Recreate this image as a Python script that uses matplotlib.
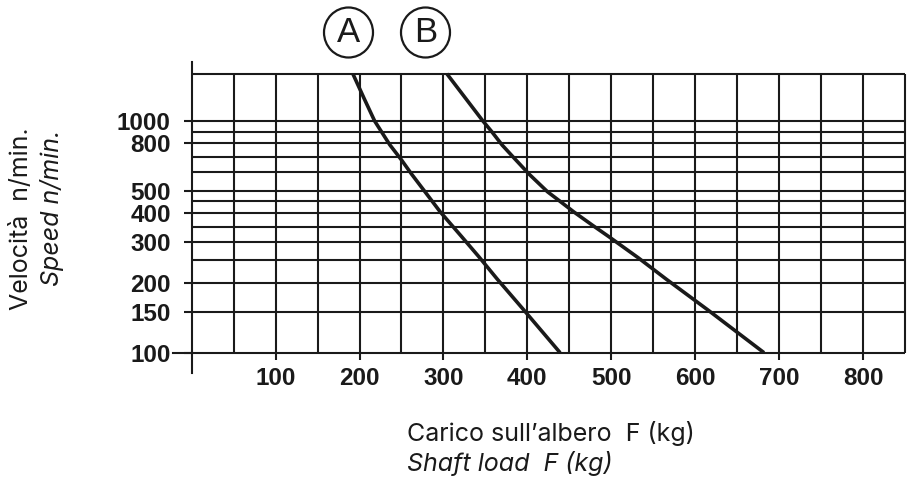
import math
import matplotlib
matplotlib.use("Agg")
import matplotlib.pyplot as plt
from matplotlib.patches import Ellipse
from matplotlib.lines import Line2D

# ---- data ----
load_a = [192, 205.5, 218, 236, 250, 262, 278, 296, 321, 342, 364, 395, 439]
speed_a = [1600, 1250, 1000, 790, 679, 590, 495, 406, 319, 260, 208, 154, 100]

load_b = [304, 347, 357.5, 370, 384.5, 402, 424, 439, 455, 478, 497, 532, 566, 615, 682]
speed_b = [1600, 1000, 900, 787, 690, 590, 495, 450, 406, 354, 317, 257, 207, 153, 100]

y_grid = [100, 150, 200, 250, 300, 350, 400, 450, 500, 600, 700, 800, 900, 1000, 1600]
y_ticks = [100, 150, 200, 300, 400, 500, 800, 1000]
x_grid = list(range(50, 851, 50))
x_ticks = [100, 200, 300, 400, 500, 600, 700, 800]
curve_labels = ["A", "B"]

W, H = 910, 483
fig = plt.figure(figsize=(W / 100, H / 100), dpi=100)

# axes: x 0..850 from px 191.7 to 905 ; y log, 100 at px 352.7, 231.7 px/decade
ax_left = 191.7 / W
ax_w = (905 - 191.7) / W
ax_bottom = (H - 352.7) / H
ymax = 1800
ax_h = (math.log10(ymax) - 2) * 231.7 / H
ax = fig.add_axes([ax_left, ax_bottom, ax_w, ax_h])
ax.set_yscale("log")
ax.set_xlim(0, 850)
ax.set_ylim(100, ymax)
for s in ax.spines.values():
    s.set_visible(False)

lc = "#1a1a1a"
glw = 1.5
ax.hlines(y_grid, 0, 850, color=lc, lw=glw, clip_on=False, zorder=1)
ax.vlines(x_grid, 100, 1600, color=lc, lw=glw, clip_on=False, zorder=1)
# left axis line, extending beyond the grid at both ends
ax.add_line(Line2D([0, 0], [-20.0 / (ax_h * H), 1.0], transform=ax.transAxes,
                   color=lc, lw=glw, clip_on=False))
# longer tick at 100
ax.add_line(Line2D([-19.0 / (ax_w * W), 0], [0, 0], transform=ax.transAxes,
                   color=lc, lw=glw, clip_on=False))

ax.plot(load_a, speed_a, color=lc, lw=2.6, solid_capstyle="butt", zorder=3)
ax.plot(load_b, speed_b, color=lc, lw=2.6, solid_capstyle="butt", zorder=3)

tick_font = dict(family=["Liberation Sans", "DejaVu Sans"], size=17.5, weight="bold")
ax.set_yticks(y_ticks)
ax.set_yticklabels([str(v) for v in y_ticks], fontdict=tick_font, color=lc)
ax.yaxis.set_minor_locator(matplotlib.ticker.NullLocator())
ax.set_xticks(x_ticks)
ax.set_xticklabels([str(v) for v in x_ticks], fontdict=tick_font, color=lc)
ax.tick_params(axis="y", length=6, width=glw, color=lc, pad=9.0)
ax.tick_params(axis="x", length=5, width=glw, color=lc, pad=5)

# axis titles
txt_font = ["Inter", "DejaVu Sans"]
fs = 18
fig.text(22 / W, 1 - 127 / H, "Velocità  n/min.", rotation=90, ha="center", va="top",
         fontsize=fs, family=txt_font, color=lc)
fig.text(52 / W, 1 - 130 / H, "Speed n/min.", rotation=90, ha="center", va="top",
         fontsize=fs, family=txt_font, style="italic", color=lc)
fig.text(407 / W, 1 - 434 / H, "Carico sull\u2019albero  F (kg)", ha="left", va="center",
         fontsize=fs, family=txt_font, color=lc)
fig.text(407 / W, 1 - 463 / H, "Shaft load  F (kg)", ha="left", va="center",
         fontsize=fs, family=txt_font, style="italic", color=lc)

# circled curve labels
for lab, cx in zip(curve_labels, [348.5, 425.5]):
    e = Ellipse((cx / 100, (H - 32.5) / 100), 0.49, 0.50, transform=fig.dpi_scale_trans,
                fill=False, edgecolor=lc, lw=1.6)
    fig.add_artist(e)
    fig.text(cx / W, 1 - 33 / H, lab, ha="center", va="center", fontsize=25,
             family=["Liberation Sans", "DejaVu Sans"], color=lc)

fig.savefig("out.png", dpi=100)
